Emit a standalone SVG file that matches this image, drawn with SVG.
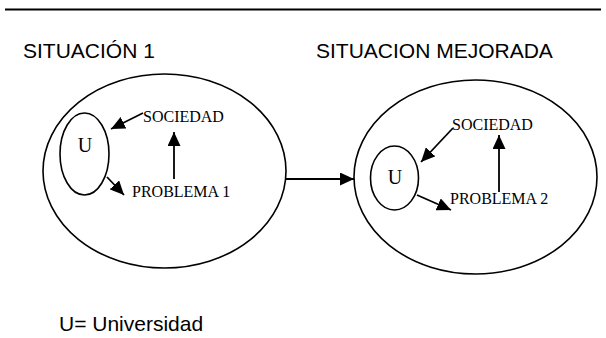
<svg xmlns="http://www.w3.org/2000/svg" width="606" height="338" viewBox="0 0 606 338">
<style>
.title{font-family:"Liberation Sans",Arial,sans-serif;font-size:21px;fill:#000}
.lbl{font-family:"Liberation Serif","Times New Roman",serif;font-size:16px;fill:#000}
.u{font-family:"Liberation Serif","Times New Roman",serif;font-size:20px;fill:#000}
.shape{fill:none;stroke:#000;stroke-width:1.6}
.conn{fill:none;stroke:#000;stroke-width:1.8}
</style>
<defs>
<marker id="ah" markerUnits="userSpaceOnUse" markerWidth="14" markerHeight="13" refX="14" refY="6.5" orient="auto">
<path d="M0,0 L14,6.5 L0,13 z" fill="#000"/>
</marker>
</defs>
<rect width="606" height="338" fill="#fff"/>
<line x1="5" y1="9.5" x2="601" y2="9.5" stroke="#000" stroke-width="2"/>
<text class="title" x="23" y="58">SITUACIÓN 1</text>
<text class="title" x="316" y="58">SITUACION MEJORADA</text>

<g id="situacion1">
<ellipse class="shape" cx="164.5" cy="171" rx="121.5" ry="97"/>
</g>
<g id="u1">
<ellipse class="shape" cx="84.5" cy="154" rx="24.5" ry="41"/>
<text class="u" x="85" y="152" text-anchor="middle">U</text>
</g>
<g id="sociedad1"><text class="lbl" x="143" y="122">SOCIEDAD</text></g>
<g id="problema1"><text class="lbl" x="132" y="197">PROBLEMA 1</text></g>

<g id="mejorada">
<ellipse class="shape" cx="475.5" cy="177" rx="121.5" ry="97"/>
</g>
<g id="u2">
<ellipse class="shape" cx="394.5" cy="178" rx="24" ry="32"/>
<text class="u" x="395" y="184" text-anchor="middle">U</text>
</g>
<g id="sociedad2"><text class="lbl" x="452" y="130">SOCIEDAD</text></g>
<g id="problema2"><text class="lbl" x="450" y="204">PROBLEMA 2</text></g>

<g id="connectors">
<line class="conn" x1="143" y1="113" x2="111" y2="129" marker-end="url(#ah)"/>
<line class="conn" x1="107" y1="177" x2="124" y2="195" marker-end="url(#ah)"/>
<line class="conn" x1="174" y1="179" x2="174" y2="132" marker-end="url(#ah)"/>
<line class="conn" x1="286" y1="179" x2="354" y2="179" marker-end="url(#ah)"/>
<line class="conn" x1="453" y1="128" x2="421" y2="162" marker-end="url(#ah)"/>
<line class="conn" x1="417" y1="195" x2="451" y2="210" marker-end="url(#ah)"/>
<line class="conn" x1="499" y1="192" x2="499" y2="135" marker-end="url(#ah)"/>
</g>

<text class="title" x="59" y="331">U= Universidad</text>
</svg>
